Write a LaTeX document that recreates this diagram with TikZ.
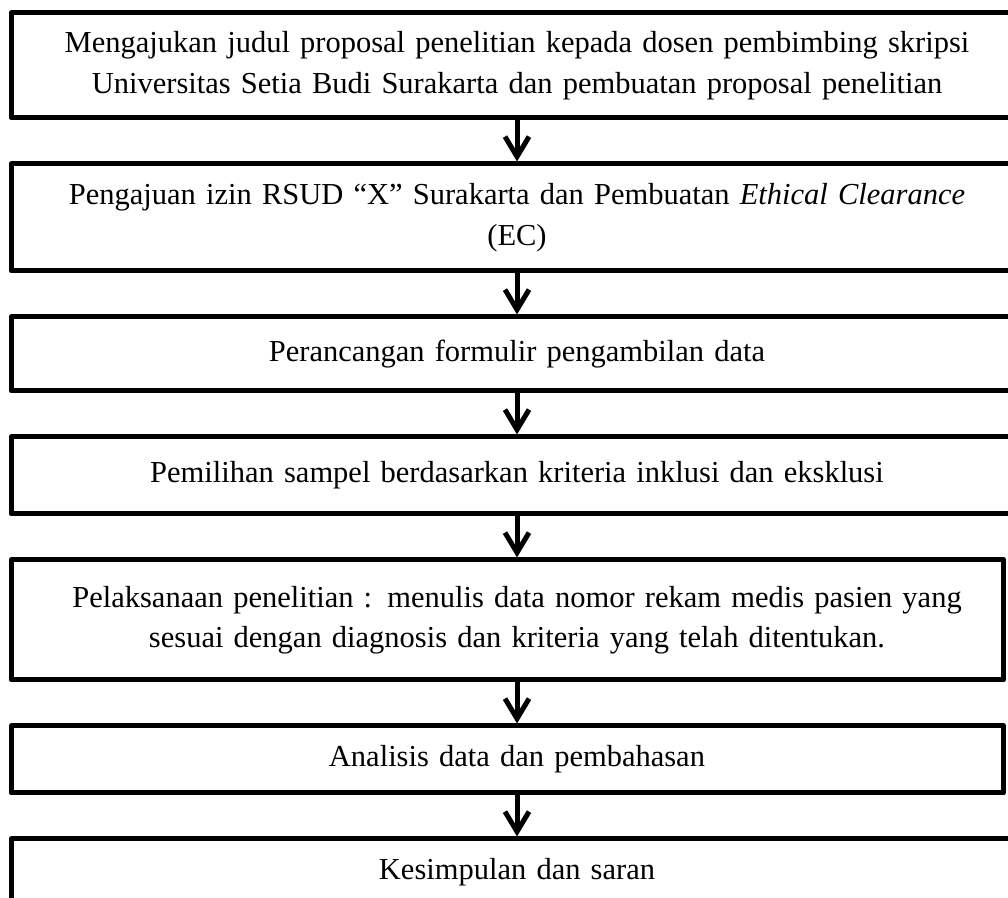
\documentclass[tikz,border=0pt]{standalone}
\usepackage{fontspec}
\setmainfont{Liberation Serif}
\usetikzlibrary{positioning, arrows.meta}

\begin{document}
\begin{tikzpicture}[
    stepbox/.style={draw=black, line width=2.5pt, line join=round, rectangle, minimum width=505.75pt, text width=495pt, align=center, outer sep=0pt, font=\fontsize{15.25pt}{20.25pt}\selectfont},
    shortbox/.style={stepbox, draw=none},
    frame/.style={draw=black, line width=2.5pt, line join=round},
    edge/.style={line width=2.5pt, shorten >=1.25pt, -{Straight Barb[length=10pt, width=12pt]}}
]
\useasboundingbox (0,0) rectangle (504pt,-449pt);
\clip (0,0) rectangle (504pt,-449pt);

% Knoten
\node[stepbox, minimum height=52.5pt] (s1) at (258.5pt,-32.75pt) {Mengajukan judul proposal penelitian kepada dosen pembimbing skripsi\\ Universitas Setia Budi Surakarta dan pembuatan proposal penelitian};
\node[stepbox, minimum height=53.5pt, below=23pt of s1] (s2) {Pengajuan izin RSUD “X” Surakarta dan Pembuatan \textit{Ethical Clearance}\\ (EC)};
\node[stepbox, minimum height=37pt, below=23pt of s2] (s3) {Perancangan formulir pengambilan data};
\node[stepbox, minimum height=38.5pt, below=23pt of s3] (s4) {Pemilihan sampel berdasarkan kriteria inklusi dan eksklusi};
\node[shortbox, minimum height=60pt, below=23pt of s4] (s5) {Pelaksanaan penelitian : menulis data nomor rekam medis pasien yang\\ sesuai dengan diagnosis dan kriteria yang telah ditentukan.};
\node[shortbox, minimum height=33.5pt, below=23pt of s5] (s6) {Analisis data dan pembahasan};
\node[stepbox, minimum height=33.5pt, below=23pt of s6] (s7) {Kesimpulan dan saran};

% Rahmen der kurzen Kaesten
\draw[frame] (s5.north west) rectangle ([xshift=-9.5pt]s5.south east);
\draw[frame] (s6.north west) rectangle ([xshift=-9.5pt]s6.south east);

% Kanten zwischen Knoten
\draw[edge] (s1.south) -- (s2.north);
\draw[edge] (s2.south) -- (s3.north);
\draw[edge] (s3.south) -- (s4.north);
\draw[edge] (s4.south) -- (s5.north);
\draw[edge] (s5.south) -- (s6.north);
\draw[edge] (s6.south) -- (s7.north);

\end{tikzpicture}
\end{document}
